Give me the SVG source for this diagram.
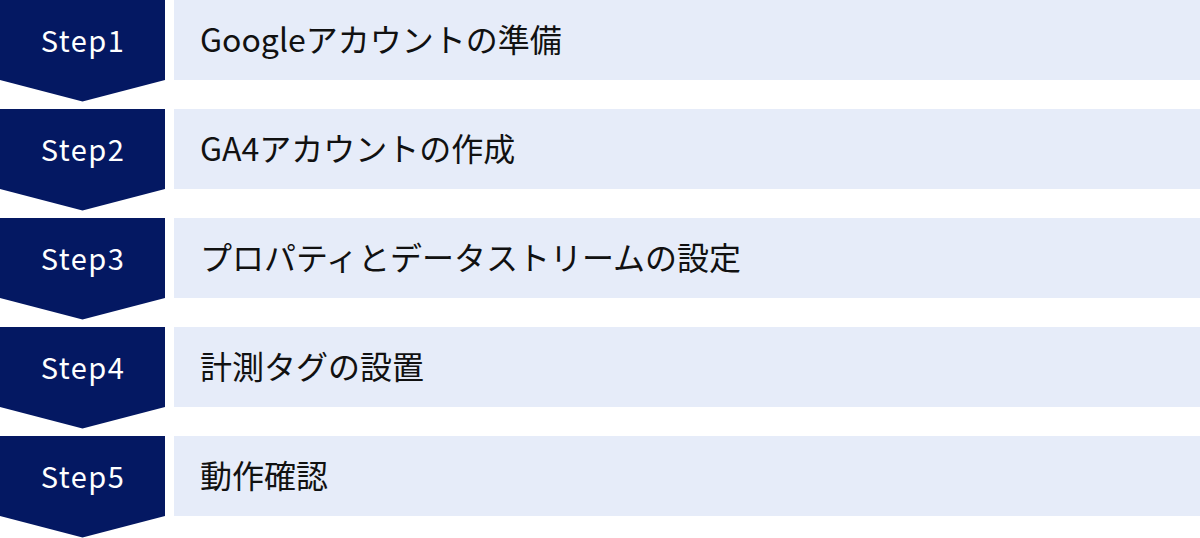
<svg xmlns="http://www.w3.org/2000/svg" width="1200" height="538" viewBox="0 0 1200 538">
<style>
.chev{fill:#041862}
.bar{fill:#E6ECF9}
.step{font-family:"Noto Sans CJK JP","Noto Sans",sans-serif;font-size:29px;fill:#fff;text-anchor:middle;letter-spacing:1.5px}
.lbl{font-family:"Noto Sans CJK JP","Noto Sans",sans-serif;font-size:32px;fill:#111}
</style>
<rect width="1200" height="538" fill="#fff"/>
<defs>
<polygon id="chev" points="0,0 165,0 165,80 82.5,101.5 0,80"/>
</defs>
<g id="step1" transform="translate(0,0)">
<use href="#chev" class="chev"/>
<rect class="bar" x="174" y="0" width="1026" height="80"/>
<text class="step" x="83" y="52">Step1</text>
<text class="lbl" x="200" y="52">Googleアカウントの準備</text>
</g>
<g id="step2" transform="translate(0,109)">
<use href="#chev" class="chev"/>
<rect class="bar" x="174" y="0" width="1026" height="80"/>
<text class="step" x="83" y="52">Step2</text>
<text class="lbl" x="200" y="52">GA4アカウントの作成</text>
</g>
<g id="step3" transform="translate(0,218)">
<use href="#chev" class="chev"/>
<rect class="bar" x="174" y="0" width="1026" height="80"/>
<text class="step" x="83" y="52">Step3</text>
<text class="lbl" x="200" y="52">プロパティとデータストリームの設定</text>
</g>
<g id="step4" transform="translate(0,327)">
<use href="#chev" class="chev"/>
<rect class="bar" x="174" y="0" width="1026" height="80"/>
<text class="step" x="83" y="52">Step4</text>
<text class="lbl" x="200" y="52">計測タグの設置</text>
</g>
<g id="step5" transform="translate(0,436)">
<use href="#chev" class="chev"/>
<rect class="bar" x="174" y="0" width="1026" height="80"/>
<text class="step" x="83" y="52">Step5</text>
<text class="lbl" x="200" y="52">動作確認</text>
</g>
<g id="connectors"></g>
</svg>
